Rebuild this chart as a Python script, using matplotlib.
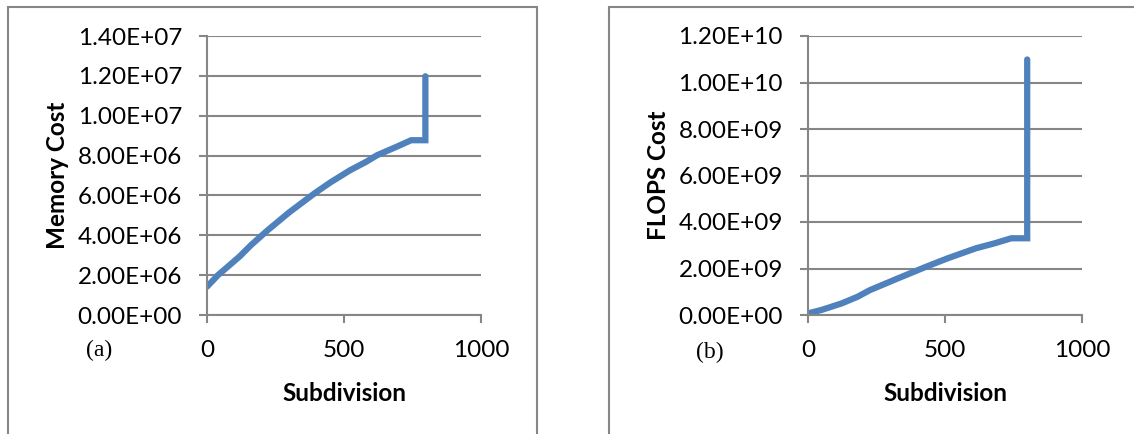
"""
Memory and FLOPS cost versus subdivision, two panels side by side.
"""
import numpy as np
import matplotlib.pyplot as plt
from matplotlib.patches import Rectangle
from matplotlib.ticker import FuncFormatter

# values
mem_sub = [0, 40, 78, 120, 160, 222, 300, 392, 450, 523, 580, 621, 690, 745, 797, 797]
mem_cost = [1.42e6, 2.0e6, 2.45e6, 2.95e6, 3.5e6, 4.26e6, 5.15e6, 6.1e6, 6.65e6, 7.27e6,
            7.68e6, 8.02e6, 8.43e6, 8.77e6, 8.77e6, 1.198e7]

flops_sub = [0, 50, 123, 180, 226, 329, 432, 510, 613, 680, 742, 800, 800]
flops_cost = [0.07e9, 0.22e9, 0.5e9, 0.78e9, 1.07e9, 1.58e9, 2.08e9, 2.44e9, 2.87e9,
              3.08e9, 3.3e9, 3.3e9, 1.099e10]

mem_ticks = [0, 2e6, 4e6, 6e6, 8e6, 1e7, 1.2e7, 1.4e7]
flops_ticks = [0, 2e9, 4e9, 6e9, 8e9, 1e10, 1.2e10]
x_ticks = [0, 500, 1000]

LINE = '#4F81BD'
GRID = '#868686'
FONT = 'Lato'
FS = 17.5


def sci(v, pos=None):
    return f"{v:.2E}"


def style(ax, yticks, ylabel):
    ax.set_xlim(0, 1000)
    ax.set_ylim(0, yticks[-1])
    ax.set_xticks(x_ticks)
    ax.set_yticks(yticks)
    ax.yaxis.set_major_formatter(FuncFormatter(sci))
    for s in ['top', 'right']:
        ax.spines[s].set_visible(False)
    for s in ['left', 'bottom']:
        ax.spines[s].set_color(GRID)
        ax.spines[s].set_linewidth(1.5)
    ax.grid(True, axis='y', color=GRID, linewidth=1.5)
    ax.set_axisbelow(True)
    ax.tick_params(axis='both', direction='out', length=6, width=1.5, color=GRID,
                   labelsize=FS, pad=12)
    ax.tick_params(axis='x', pad=12)
    for lab in ax.get_xticklabels() + ax.get_yticklabels():
        lab.set_fontfamily(FONT)
    ax.set_xlabel('Subdivision', fontsize=FS, fontweight='bold', family=FONT, labelpad=15)
    ax.set_ylabel(ylabel, fontsize=FS, fontweight='bold', family=FONT, labelpad=6)


fig = plt.figure(figsize=(11.34, 4.34), dpi=100)

ax1 = fig.add_axes([207 / 1134, 1 - 315 / 434, 274 / 1134, 279 / 434])
ax1.plot(mem_sub, mem_cost, color=LINE, linewidth=4.5, solid_capstyle='round', solid_joinstyle='miter')
style(ax1, mem_ticks, 'Memory Cost')

ax2 = fig.add_axes([808 / 1134, 1 - 315 / 434, 274 / 1134, 279 / 434])
ax2.plot(flops_sub, flops_cost, color=LINE, linewidth=4.5, solid_capstyle='round', solid_joinstyle='miter')
style(ax2, flops_ticks, 'FLOPS Cost')

# panel frames
fig.patches.append(Rectangle((8 / 1134, -0.1), 529 / 1134, 1.1 - 7 / 434, transform=fig.transFigure,
                             fill=False, edgecolor=GRID, linewidth=1.5))
fig.patches.append(Rectangle((609 / 1134, -0.1), 600 / 1134, 1.1 - 7 / 434, transform=fig.transFigure,
                             fill=False, edgecolor=GRID, linewidth=1.5))

fig.text(99 / 1134, 1 - 350 / 434, '(a)', fontsize=17, family='Liberation Serif', ha='center', va='center')
fig.text(710 / 1134, 1 - 352 / 434, '(b)', fontsize=17, family='Liberation Serif', ha='center', va='center')

plt.savefig('out.png', dpi=100)
